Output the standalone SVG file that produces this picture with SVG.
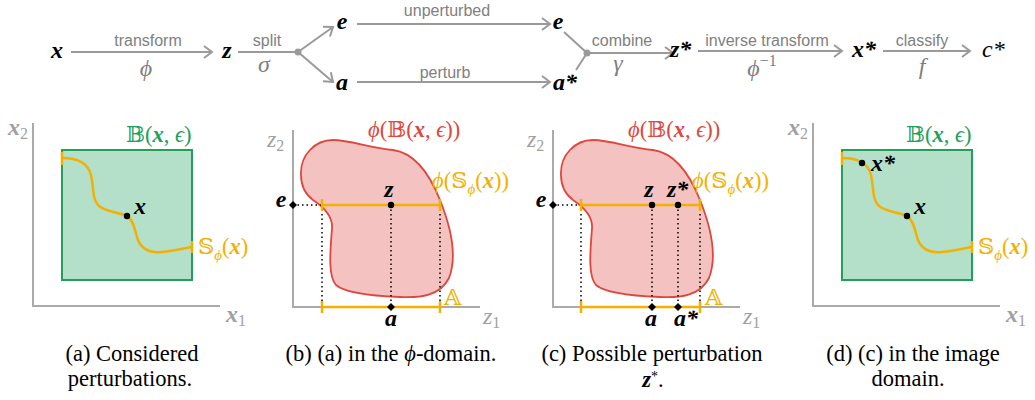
<svg xmlns="http://www.w3.org/2000/svg" width="1035" height="400" viewBox="0 0 1035 400">
<style>
.lbl{font-family:"Liberation Sans",Arial,sans-serif;font-size:16px;fill:#808080;text-anchor:middle}
.gr{font-family:"Liberation Serif","DejaVu Serif",serif;font-style:italic;font-size:24px;fill:#808080;text-anchor:middle}
.m{font-family:"Liberation Serif","DejaVu Serif",serif;font-style:italic;font-weight:bold;font-size:24px;fill:#000}
.mi{font-family:"Liberation Serif","DejaVu Serif",serif;font-style:italic;font-size:24px;fill:#000}
.ax{font-family:"Liberation Serif","DejaVu Serif",serif;font-style:italic;font-size:24px;fill:#a0a0a0}
.pl{font-family:"Liberation Serif","DejaVu Serif","DejaVu Sans",serif;font-size:22.5px}
.b{font-weight:bold;font-style:italic}
.i{font-style:italic}
.cap{font-family:"Liberation Serif","Times New Roman",serif;font-size:22.5px;fill:#000;text-anchor:middle}
.arr{stroke:#9a9a9a;stroke-width:2;fill:none}
.axis{stroke:#aaaaaa;stroke-width:2;fill:none}
.org{stroke:#f2b100;stroke-width:2.5;fill:none}
.dot{stroke:#000;stroke-width:1.5;stroke-dasharray:1.5 3;fill:none}
.blob{fill:#f4c3c1;stroke:#e0463e;stroke-width:1.8}
.box{fill:#b4e0ca;stroke:#22a05a;stroke-width:2}
</style>
<defs>
<marker id="ah" markerWidth="12" markerHeight="14" refX="9" refY="7" orient="auto" markerUnits="userSpaceOnUse">
<path d="M1,1 L9,7 L1,13" fill="none" stroke="#9a9a9a" stroke-width="2"/>
</marker>
<path id="blobShape" d="M301,175 C300,155 315,140 333,140 C350,140 370,148 393,150 C415,153 430,175 440,200 C450,225 458,255 449,278 C440,296 420,298 400,297 C375,296 345,293 336,285 C327,275 331,245 332,228 C333,215 322,206 313,200 C305,194 301,185 301,175 Z"/>
<path id="curve" d="M62,158 C78,158 88,163 91,175 C94,188 92,200 99,206 C106,212 118,212 127,216 C134,220 135,232 138,240 C142,250 150,253 162,252 C175,251 185,248 192,247"/>
<path id="dia" d="M0,-4 L4,0 L0,4 L-4,0 Z"/>
</defs>

<!-- top row connectors -->
<g id="connectors">
<line class="arr" x1="71" y1="52" x2="212" y2="52" marker-end="url(#ah)"/>
<line class="arr" x1="238" y1="52" x2="298" y2="52"/>
<line class="arr" x1="298" y1="52" x2="333" y2="27" marker-end="url(#ah)"/>
<line class="arr" x1="298" y1="52" x2="333" y2="82" marker-end="url(#ah)"/>
<circle cx="298" cy="52" r="3.5" fill="#9a9a9a"/>
<line class="arr" x1="357" y1="24" x2="550" y2="24" marker-end="url(#ah)"/>
<line class="arr" x1="357" y1="82" x2="550" y2="82" marker-end="url(#ah)"/>
<line class="arr" x1="564" y1="32" x2="587" y2="53"/>
<line class="arr" x1="576" y1="70" x2="587" y2="53"/>
<line class="arr" x1="587" y1="53" x2="673" y2="53" marker-end="url(#ah)"/>
<circle cx="587" cy="53" r="3.5" fill="#9a9a9a"/>
<line class="arr" x1="698" y1="51" x2="842" y2="51" marker-end="url(#ah)"/>
<line class="arr" x1="883" y1="51" x2="970" y2="51" marker-end="url(#ah)"/>
<text class="lbl" x="148" y="46">transform</text>
<text class="gr" x="146" y="76">ϕ</text>
<text class="lbl" x="267" y="46">split</text>
<text class="gr" x="264" y="72">σ</text>
<text class="lbl" x="447" y="16">unperturbed</text>
<text class="lbl" x="445" y="78">perturb</text>
<text class="lbl" x="622" y="46">combine</text>
<text class="gr" x="618" y="71">γ</text>
<text class="lbl" x="767" y="46">inverse transform</text>
<text class="gr" x="762" y="76">ϕ<tspan font-size="16" dy="-10" font-style="normal">−1</tspan></text>
<text class="lbl" x="922" y="46">classify</text>
<text class="gr" x="922" y="74">f</text>
</g>

<g id="node-x"><text class="m" x="57" y="58" text-anchor="middle">x</text></g>
<g id="node-z"><text class="m" x="227" y="58" text-anchor="middle">z</text></g>
<g id="node-e"><text class="m" x="342" y="29" text-anchor="middle">e</text></g>
<g id="node-a"><text class="m" x="342" y="90" text-anchor="middle">a</text></g>
<g id="node-e2"><text class="m" x="558" y="29" text-anchor="middle">e</text></g>
<g id="node-astar"><text class="m" x="553" y="90">a*</text></g>
<g id="node-zstar"><text class="m" x="670" y="57">z*</text></g>
<g id="node-xstar"><text class="m" x="852" y="57">x*</text></g>
<g id="node-cstar"><text class="mi" x="982" y="57">c*</text></g>

<!-- panel a -->
<g id="panel-a">
<path class="axis" d="M33,123 L33,306 L220,306"/>
<text class="ax" x="8" y="135" font-weight="bold">x<tspan font-size="16" dy="4" font-style="normal" font-weight="normal">2</tspan></text>
<text class="ax" x="226" y="322" font-weight="bold">x<tspan font-size="16" dy="4" font-style="normal" font-weight="normal">1</tspan></text>
<rect class="box" x="62" y="150" width="130" height="130"/>
<use href="#curve" class="org"/>
<line class="org" x1="62" y1="152" x2="62" y2="165"/>
<line class="org" x1="192" y1="241" x2="192" y2="253"/>
<circle cx="127" cy="216" r="3.2" fill="#000"/>
<text class="m" x="134" y="214">x</text>
<text class="pl" x="126" y="142" fill="#22a05a">𝔹(<tspan class="b">x</tspan>, <tspan class="i">ϵ</tspan>)</text>
<text class="pl" x="198" y="254" fill="#f2b100">𝕊<tspan class="i" font-size="15" dy="6">ϕ</tspan><tspan dy="-6">(</tspan><tspan class="b">x</tspan>)</text>
</g>

<!-- panel b -->
<g id="panel-b">
<use href="#blobShape" class="blob"/>
<path class="axis" d="M293,130 L293,307 L480,307"/>
<text class="ax" x="267" y="147">z<tspan font-size="16" dy="4" font-style="normal">2</tspan></text>
<text class="ax" x="483" y="324">z<tspan font-size="16" dy="4" font-style="normal">1</tspan></text>
<line class="dot" x1="293" y1="205" x2="322" y2="205"/>
<line class="dot" x1="322" y1="205" x2="322" y2="307"/>
<line class="dot" x1="391" y1="205" x2="391" y2="307"/>
<line class="dot" x1="440" y1="205" x2="440" y2="307"/>
<line class="org" x1="322" y1="205" x2="440" y2="205"/>
<line class="org" x1="322" y1="199" x2="322" y2="211"/>
<line class="org" x1="440" y1="199" x2="440" y2="211"/>
<line class="org" x1="322" y1="307" x2="440" y2="307"/>
<line class="org" x1="322" y1="301" x2="322" y2="313"/>
<line class="org" x1="440" y1="301" x2="440" y2="313"/>
<circle cx="391" cy="205" r="3.2" fill="#000"/>
<use href="#dia" x="293" y="205"/>
<use href="#dia" x="391" y="307"/>
<text class="m" x="389" y="197" text-anchor="middle">z</text>
<text class="m" x="281" y="207" text-anchor="middle">e</text>
<text class="m" x="391" y="326" text-anchor="middle">a</text>
<text class="pl" x="444" y="305" fill="#f2b100">𝔸</text>
<text class="pl" x="368" y="137" fill="#e0463e"><tspan class="i">ϕ</tspan>(𝔹(<tspan class="b">x</tspan>, <tspan class="i">ϵ</tspan>))</text>
<text class="pl" x="432" y="188" fill="#f2b100"><tspan class="i">ϕ</tspan>(𝕊<tspan class="i" font-size="15" dy="6">ϕ</tspan><tspan dy="-6">(</tspan><tspan class="b">x</tspan>))</text>
</g>

<!-- panel c -->
<g id="panel-c">
<use href="#blobShape" class="blob" transform="translate(260,0)"/>
<path class="axis" d="M553,130 L553,307 L740,307"/>
<text class="ax" x="527" y="147">z<tspan font-size="16" dy="4" font-style="normal">2</tspan></text>
<text class="ax" x="743" y="324">z<tspan font-size="16" dy="4" font-style="normal">1</tspan></text>
<line class="dot" x1="553" y1="205" x2="581" y2="205"/>
<line class="dot" x1="581" y1="205" x2="581" y2="307"/>
<line class="dot" x1="652" y1="205" x2="652" y2="307"/>
<line class="dot" x1="678" y1="205" x2="678" y2="307"/>
<line class="dot" x1="700" y1="205" x2="700" y2="307"/>
<line class="org" x1="581" y1="205" x2="700" y2="205"/>
<line class="org" x1="581" y1="199" x2="581" y2="211"/>
<line class="org" x1="700" y1="199" x2="700" y2="211"/>
<line class="org" x1="581" y1="307" x2="700" y2="307"/>
<line class="org" x1="581" y1="301" x2="581" y2="313"/>
<line class="org" x1="700" y1="301" x2="700" y2="313"/>
<circle cx="652" cy="205" r="3.2" fill="#000"/>
<circle cx="678" cy="205" r="3.2" fill="#000"/>
<use href="#dia" x="553" y="205"/>
<use href="#dia" x="652" y="307"/>
<use href="#dia" x="678" y="307"/>
<text class="m" x="649" y="197" text-anchor="middle">z</text>
<text class="m" x="667" y="197">z*</text>
<text class="m" x="541" y="207" text-anchor="middle">e</text>
<text class="m" x="651" y="326" text-anchor="middle">a</text>
<text class="m" x="674" y="326">a*</text>
<text class="pl" x="705" y="305" fill="#f2b100">𝔸</text>
<text class="pl" x="628" y="137" fill="#e0463e"><tspan class="i">ϕ</tspan>(𝔹(<tspan class="b">x</tspan>, <tspan class="i">ϵ</tspan>))</text>
<text class="pl" x="692" y="188" fill="#f2b100"><tspan class="i">ϕ</tspan>(𝕊<tspan class="i" font-size="15" dy="6">ϕ</tspan><tspan dy="-6">(</tspan><tspan class="b">x</tspan>))</text>
</g>

<!-- panel d -->
<g id="panel-d">
<path class="axis" d="M813,123 L813,306 L1000,306"/>
<text class="ax" x="788" y="135" font-weight="bold">x<tspan font-size="16" dy="4" font-style="normal" font-weight="normal">2</tspan></text>
<text class="ax" x="1006" y="322" font-weight="bold">x<tspan font-size="16" dy="4" font-style="normal" font-weight="normal">1</tspan></text>
<rect class="box" x="842" y="150" width="130" height="130"/>
<use href="#curve" class="org" transform="translate(780,0)"/>
<line class="org" x1="842" y1="152" x2="842" y2="165"/>
<line class="org" x1="972" y1="241" x2="972" y2="253"/>
<circle cx="907" cy="216" r="3.2" fill="#000"/>
<circle cx="862" cy="163" r="3.2" fill="#000"/>
<text class="m" x="914" y="214">x</text>
<text class="m" x="871" y="171">x*</text>
<text class="pl" x="906" y="142" fill="#22a05a">𝔹(<tspan class="b">x</tspan>, <tspan class="i">ϵ</tspan>)</text>
<text class="pl" x="978" y="254" fill="#f2b100">𝕊<tspan class="i" font-size="15" dy="6">ϕ</tspan><tspan dy="-6">(</tspan><tspan class="b">x</tspan>)</text>
</g>

<!-- captions -->
<g id="captions">
<text class="cap" x="132" y="361">(a) Considered</text>
<text class="cap" x="130" y="386">perturbations.</text>
<text class="cap" x="391" y="361">(b) (a) in the <tspan font-style="italic">ϕ</tspan>-domain.</text>
<text class="cap" x="652" y="361">(c) Possible perturbation</text>
<text class="cap" x="653" y="387"><tspan font-weight="bold" font-style="italic">z</tspan><tspan font-size="14" dy="-6">*</tspan><tspan dy="6">.</tspan></text>
<text class="cap" x="913" y="361">(d) (c) in the image</text>
<text class="cap" x="908" y="386">domain.</text>
</g>
</svg>
